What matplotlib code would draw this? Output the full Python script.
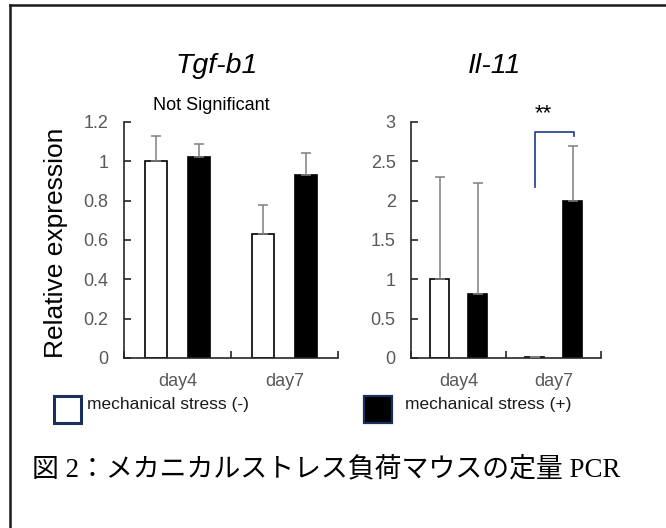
import numpy as np
import matplotlib.pyplot as plt
from matplotlib.patches import Rectangle
from matplotlib.lines import Line2D

plt.rcParams['font.family'] = 'Liberation Sans'

# relative expression (mean, upper error) per group
days = ['day4', 'day7']
tgf_ctrl = [1.00, 0.63]
tgf_ctrl_err = [0.13, 0.15]
tgf_stress = [1.02, 0.93]
tgf_stress_err = [0.07, 0.11]
il11_ctrl = [1.00, 0.01]
il11_ctrl_err = [1.30, 0.00]
il11_stress = [0.81, 2.00]
il11_stress_err = [1.41, 0.70]

W, H = 666, 528
fig = plt.figure(figsize=(W / 100, H / 100), dpi=100)


def fx(x):
    return x / W


def fy(y):
    return 1 - y / H


def panel(rect, ctrl, ctrl_err, stress, stress_err, ymax, step):
    x0, y0, x1, y1 = rect
    ax = fig.add_axes([fx(x0), fy(y1), (x1 - x0) / W, (y1 - y0) / H])
    x = np.arange(len(days))
    zeros = np.zeros(len(days))
    ax.bar(x + 0.3, ctrl, 0.2, color='white', edgecolor='black', linewidth=1.2, zorder=2)
    ax.bar(x + 0.7, stress, 0.2, color='black', edgecolor='black', linewidth=1.2, zorder=2)
    for pos, vals, err in [(x + 0.3, ctrl, ctrl_err), (x + 0.7, stress, stress_err)]:
        ax.errorbar(pos, vals, yerr=[zeros, err], fmt='none', ecolor='#7f7f7f',
                    elinewidth=1.1, capsize=3.5, capthick=1.1, zorder=3)
    ax.set_xlim(0, 2)
    ax.set_ylim(0, ymax)
    for s in ['top', 'right']:
        ax.spines[s].set_visible(False)
    for s in ['left', 'bottom']:
        ax.spines[s].set_linewidth(1.2)
        ax.spines[s].set_color('#262626')
    ax.set_xticks([0, 1, 2])
    ax.set_xticklabels([])
    ax.set_xticks([0.5, 1.5], minor=True)
    ax.set_xticklabels(days, minor=True)
    ax.tick_params(axis='x', which='major', direction='in', length=5, width=1.2, color='#262626')
    ax.tick_params(axis='x', which='minor', length=0, pad=11, labelsize=13, labelcolor='#595959')
    yt = np.arange(0, ymax + step / 2, step)
    ax.set_yticks(yt)
    ax.set_yticklabels(['%g' % v for v in yt])
    ax.tick_params(axis='y', direction='in', length=5, width=1.2, color='#262626',
                   pad=11, labelsize=13, labelcolor='#595959')
    return ax


ax1 = panel((124, 122, 338, 358), tgf_ctrl, tgf_ctrl_err, tgf_stress, tgf_stress_err, 1.2, 0.2)
ax2 = panel((411, 122, 601, 358), il11_ctrl, il11_ctrl_err, il11_stress, il11_stress_err, 3, 0.5)

# significance bracket on day7 of Il-11
ax2.plot([1.31, 1.31, 1.715, 1.715], [2.18, 2.87, 2.87, 2.82], color='#2b4a8f',
         linewidth=1.3, clip_on=False)

fig.text(fx(56), fy(243), 'Relative expression', rotation=90, fontsize=19,
         ha='center', va='center')
fig.text(fx(216.5), fy(66), 'Tgf-b1', fontsize=20.5, style='italic', ha='center', va='center')
fig.text(fx(495), fy(66), 'Il-11', fontsize=20.5, style='italic', ha='center', va='center')
fig.text(fx(211), fy(105), 'Not Significant', fontsize=13, ha='center', va='center')
fig.text(fx(543.5), fy(114), '**', fontsize=16, ha='center', va='center')

# legend keys
fig.add_artist(Rectangle((fx(54), fy(423)), 27 / W, 27 / H, transform=fig.transFigure,
                         facecolor='white', edgecolor='#1b2f5f', linewidth=2.2))
fig.add_artist(Rectangle((fx(364), fy(423)), 28 / W, 27 / H, transform=fig.transFigure,
                         facecolor='black', edgecolor='#1b2f5f', linewidth=1.6))
fig.text(fx(87), fy(404), 'mechanical stress (-)', fontsize=12.5, color='#1a1a1a',
         ha='left', va='center')
fig.text(fx(405), fy(404), 'mechanical stress (+)', fontsize=12.5, color='#1a1a1a',
         ha='left', va='center')

fig.text(fx(32), fy(470), '図 2：メカニカルストレス負荷マウスの定量 PCR', fontsize=19.4,
         family=['Liberation Serif', 'Noto Sans CJK JP'], ha='left', va='center')

# frame lines
fig.add_artist(Line2D([fx(9.7), 1], [fy(4.5), fy(4.5)], transform=fig.transFigure,
                      color='#1a1a1a', linewidth=1.8))
fig.add_artist(Line2D([fx(9.7), fx(9.7)], [fy(4.5), 0], transform=fig.transFigure,
                      color='#1a1a1a', linewidth=1.8))

fig.savefig('out.png', dpi=100)
